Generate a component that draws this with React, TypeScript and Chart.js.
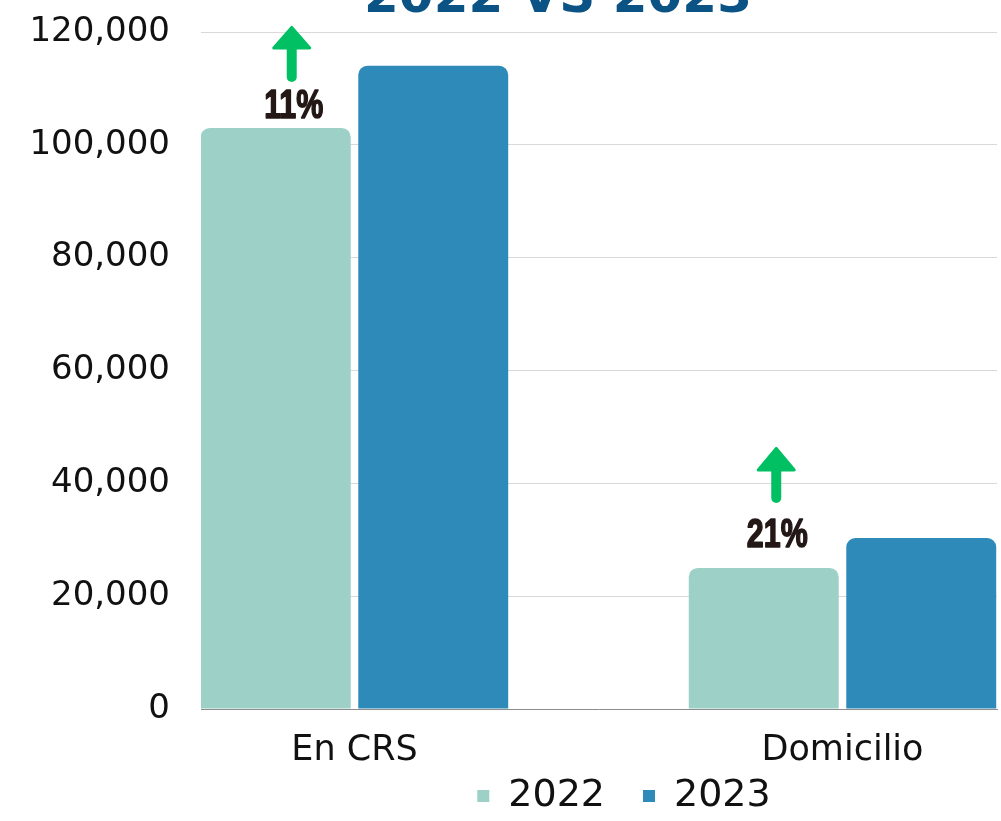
import React, { useEffect, useRef } from 'react';
import { Chart, registerables } from 'chart.js';

Chart.register(...registerables);

const categories = ['En CRS', 'Domicilio'];
const categoryPositions = [0, 1];
const seriesLabels = ['2022', '2023'];
const series2022 = [103000, 25000];
const series2023 = [114000, 30300];
const changeLabels = ['11%', '21%'];
const yTicks = [0, 20000, 40000, 60000, 80000, 100000, 120000];
const titleText = '2022 VS 2023';

const colors = ['#9dd1c7', '#2e8bb9'];

const annotationPlugin = {
  id: 'changeAnnotations',
  afterDatasetsDraw(chart: any) {
    const ctx = chart.ctx;
    const meta = chart.getDatasetMeta(0);
    const offs = [
      { dx: 16, tip: 102, base: 80, tail: 46, tdx: 18, ty: 10 },
      { dx: 12.5, tip: 121, base: 98, tail: 65, tdx: 13.5, ty: 21 },
    ];
    meta.data.forEach((bar: any, i: number) => {
      const o = offs[i];
      const top = bar.y;
      const cx = bar.x + o.dx;
      ctx.save();
      ctx.fillStyle = '#00c063';
      ctx.strokeStyle = '#00c063';
      ctx.lineJoin = 'round';
      ctx.lineWidth = 3;
      ctx.beginPath();
      ctx.moveTo(cx, top - o.tip + 1.5);
      ctx.lineTo(cx + 18, top - o.base);
      ctx.lineTo(cx - 18, top - o.base);
      ctx.closePath();
      ctx.fill();
      ctx.stroke();
      ctx.lineCap = 'round';
      ctx.lineWidth = 10;
      ctx.beginPath();
      ctx.moveTo(cx, top - o.base);
      ctx.lineTo(cx, top - o.tail - 5);
      ctx.stroke();
      ctx.fillStyle = '#231816';
      ctx.strokeStyle = '#231816';
      ctx.lineWidth = 1.6;
      ctx.lineJoin = 'round';
      ctx.font = 'bold 40px "Liberation Sans", sans-serif';
      ctx.textAlign = 'center';
      ctx.textBaseline = 'alphabetic';
      ctx.translate(bar.x + o.tdx, top - o.ty);
      ctx.scale(0.76, 1);
      ctx.fillText(changeLabels[i], 0, 0);
      ctx.strokeText(changeLabels[i], 0, 0);
      ctx.restore();
    });
  },
};

const titlePlugin = {
  id: 'cutTitle',
  afterDraw(chart: any) {
    const ctx = chart.ctx;
    ctx.save();
    ctx.fillStyle = '#0b5384';
    ctx.font = 'bold 50px "DejaVu Sans", sans-serif';
    ctx.textAlign = 'center';
    ctx.textBaseline = 'alphabetic';
    ctx.fillText(titleText, 558, 12);
    ctx.restore();
  },
};

const legendShiftPlugin = {
  id: 'legendShift',
  afterLayout(chart: any) {
    const lg = chart.legend;
    if (!lg) return;
    const dy = -32;
    const dx = 25;
    lg.top += dy;
    lg.height = lg.bottom - lg.top;
    lg.left += dx;
    lg.right += dx;
  },
};

export default function App() {
  const ref = useRef<HTMLCanvasElement | null>(null);

  useEffect(() => {
    document.body.style.margin = '0';
    if (!ref.current) return;
    const font = { family: '"DejaVu Sans", sans-serif' };
    const chart = new Chart(ref.current, {
      type: 'bar',
      data: {
        datasets: [
          {
            label: seriesLabels[0],
            data: categoryPositions.map((x, i) => ({ x, y: series2022[i] })),
            backgroundColor: colors[0],
            borderRadius: { topLeft: 9, topRight: 9, bottomLeft: 0, bottomRight: 0 },
            borderSkipped: 'bottom',
            categoryPercentage: 0.6455,
            barPercentage: 0.952,
          },
          {
            label: seriesLabels[1],
            data: categoryPositions.map((x, i) => ({ x, y: series2023[i] })),
            backgroundColor: colors[1],
            borderRadius: { topLeft: 9, topRight: 9, bottomLeft: 0, bottomRight: 0 },
            borderSkipped: 'bottom',
            categoryPercentage: 0.6455,
            barPercentage: 0.952,
          },
        ] as any,
      },
      options: {
        animation: false,
        responsive: true,
        maintainAspectRatio: false,
        layout: { padding: { top: 32, right: 4, left: 0, bottom: 0 } },
        scales: {
          x: {
            type: 'linear',
            min: -0.3145,
            max: 1.3166,
            offset: false,
            afterBuildTicks: (s: any) => {
              s.ticks = categoryPositions.map((v) => ({ value: v }));
            },
            afterFit: (s: any) => {
              s.height = 62;
            },
            ticks: {
              callback: (v: any) => {
                const idx = categoryPositions.indexOf(Number(v));
                return idx >= 0 ? categories[idx] : '';
              },
              font: { ...font, size: 35 },
              color: '#111111',
              padding: 21,
              autoSkip: false,
              maxRotation: 0,
            },
            grid: { display: false, drawTicks: false },
            border: { display: true, color: '#8c8c8c', width: 1 },
          } as any,
          y: {
            min: 0,
            max: 120000,
            afterBuildTicks: (s: any) => {
              s.ticks = yTicks.map((v) => ({ value: v }));
            },
            afterFit: (s: any) => {
              s.width = 201;
              s.paddingTop = 0;
              s.paddingBottom = 0;
            },
            ticks: {
              font: { ...font, size: 34 },
              color: '#111111',
              padding: 31,
              callback: (v: any) => Number(v).toLocaleString('en-US'),
            },
            grid: { color: '#d9d9d9', drawTicks: false, lineWidth: 1 },
            border: { display: false },
          } as any,
        },
        plugins: {
          legend: {
            position: 'bottom',
            fullSize: false,
            maxHeight: 50,
            labels: {
              font: { ...font, size: 38 },
              color: '#111111',
              boxWidth: 12,
              boxHeight: 12,
              padding: 38,
            },
          },
          tooltip: { enabled: false },
          title: { display: false },
        },
      } as any,
      plugins: [annotationPlugin, titlePlugin, legendShiftPlugin],
    });
    return () => chart.destroy();
  }, []);

  return (
    <div style={{ position: 'fixed', left: 0, top: 0, width: '1001px', height: '821px', background: '#ffffff' }}>
      <canvas ref={ref} />
    </div>
  );
}
